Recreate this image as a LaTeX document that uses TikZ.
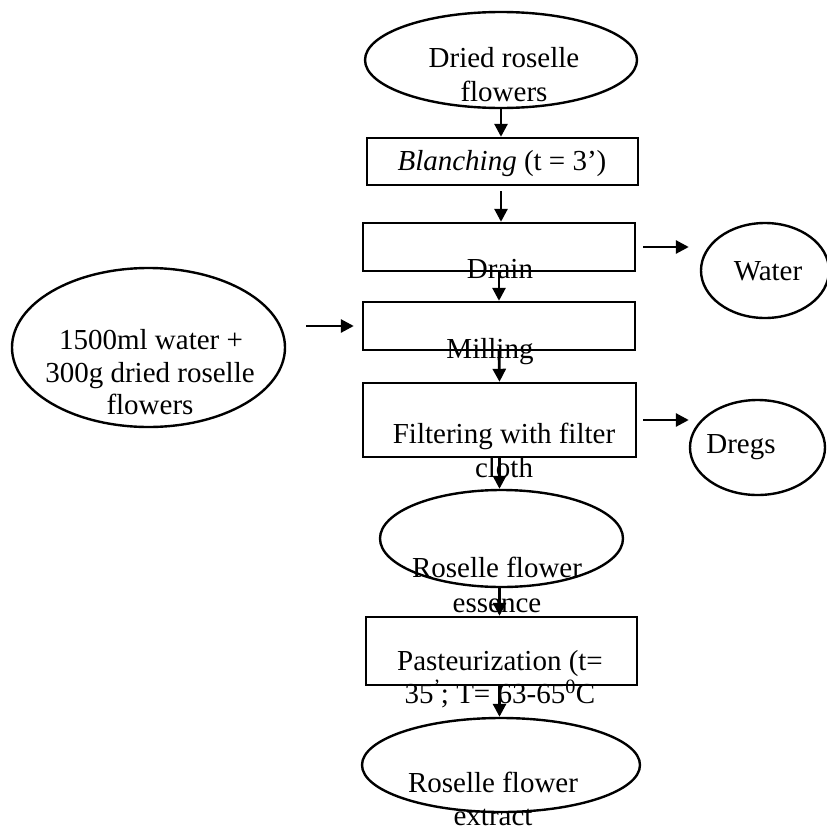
\documentclass[tikz,border=0pt]{standalone}
\usepackage{fontspec}
\setmainfont{Liberation Serif}
\usetikzlibrary{shapes.geometric,arrows.meta}
\tikzset{
  oval/.style={draw, line width=2.4pt, ellipse, inner sep=0pt},
  stepbox/.style={draw, line width=2.4pt, rectangle, inner sep=0pt},
  lbl/.style={anchor=base, inner sep=0pt, align=center, font=\fontsize{29}{33}\selectfont},
  arr/.style={line width=2.8pt, -{Triangle[width=13pt,length=13pt]}}
}
\begin{document}
\begin{tikzpicture}[x=1pt,y=-1pt]
\useasboundingbox (0,0) rectangle (827,830);
% shapes
\node[oval, minimum width=272pt, minimum height=96pt] (top) at (501,60) {};
\node[stepbox, minimum width=271pt, minimum height=47pt] (blanch) at (502.5,161.5) {};
\node[stepbox, minimum width=272pt, minimum height=48pt] (drain) at (499,247) {};
\node[stepbox, minimum width=272pt, minimum height=48pt] (mill) at (499,326) {};
\node[stepbox, minimum width=273pt, minimum height=74pt] (filter) at (499.5,420) {};
\node[oval, minimum width=243pt, minimum height=97pt] (essence) at (501.5,538.5) {};
\node[stepbox, minimum width=271pt, minimum height=68pt] (past) at (501.5,651) {};
\node[oval, minimum width=278pt, minimum height=94pt] (extract) at (501,765) {};
\node[oval, minimum width=273pt, minimum height=159pt] (input) at (148.5,347.5) {};
\node[oval, minimum width=128pt, minimum height=95pt] (water) at (765,270.5) {};
\node[oval, minimum width=135pt, minimum height=95pt] (dregs) at (757.5,447.5) {};
% texts
\node[lbl] (ttop1) at (504,67) {Dried roselle};
\node[lbl] (ttop2) at (504,101) {flowers};
\node[lbl] (tblanch) at (502,170) {\textit{Blanching} (t = 3')};
\node[lbl] (tdrain) at (500,278) {Drain};
\node[lbl] (tmill) at (490,358) {Milling};
\node[lbl] (tfilter1) at (504,443) {Filtering with filter};
\node[lbl] (tfilter2) at (504,477) {cloth};
\node[lbl] (tess1) at (497,577) {Roselle flower};
\node[lbl] (tess2) at (497,612) {essence};
\node[lbl] (tpast1) at (500,670) {Pasteurization (t=};
\node[lbl] (tpast2) at (500,703) {35\textsuperscript{'}; T= 63-65\textsuperscript{0}C};
\node[lbl] (text1) at (493,792) {Roselle flower};
\node[lbl] (text2) at (493,825) {extract};
\node[lbl] (tin1) at (151,349) {1500ml water +};
\node[lbl] (tin2) at (150,382) {300g dried roselle};
\node[lbl] (tin3) at (150,414) {flowers};
\node[lbl] (twater) at (768,280) {Water};
\node[lbl] (tdregs) at (741,453) {Dregs};
% connectors
\draw[arr] (top.south) -- (top.south |- blanch.north);
\draw[arr, shorten <=5pt] (blanch.south -| top.south) -- (drain.north -| top.south);
\draw[arr] (drain.south) -- (mill.north);
\draw[arr] (mill.south) -- (filter.north);
\draw[arr] (filter.south) -- (filter.south |- essence.north);
\draw[arr] (essence.south -| filter.south) -- (past.north -| filter.south);
\draw[arr] (past.south -| filter.south) -- (extract.north -| filter.south);
\draw[arr, shorten <=7pt, shorten >=11pt] (drain.east) -- (drain.east -| water.west);
\draw[arr, shorten <=6pt] (filter.east) -- (filter.east -| dregs.west);
\draw[arr, shorten <=20pt, shorten >=8pt] (mill.west -| input.east) -- (mill.west);
\end{tikzpicture}
\end{document}
